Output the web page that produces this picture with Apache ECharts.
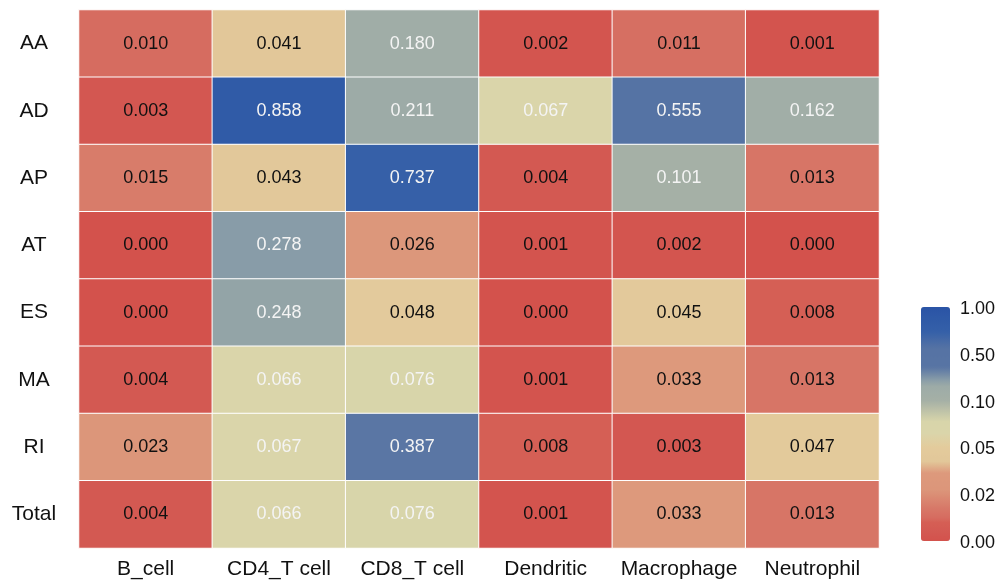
<!DOCTYPE html>
<html>
<head>
<meta charset="utf-8">
<script src="https://cdn.jsdelivr.net/npm/echarts@6/dist/echarts.min.js"></script>
<style>
  html, body { margin: 0; padding: 0; background: #fff; }
  #chart { width: 997px; height: 581px; }
</style>
</head>
<body>
<div id="chart"></div>
<script>
// Row and column categories
const rowNames = ['AA', 'AD', 'AP', 'AT', 'ES', 'MA', 'RI', 'Total'];
const colNames = ['B_cell', 'CD4_T cell', 'CD8_T cell', 'Dendritic', 'Macrophage', 'Neutrophil'];

// Values per row, in column order
const rowAA    = [0.010, 0.041, 0.180, 0.002, 0.011, 0.001];
const rowAD    = [0.003, 0.858, 0.211, 0.067, 0.555, 0.162];
const rowAP    = [0.015, 0.043, 0.737, 0.004, 0.101, 0.013];
const rowAT    = [0.000, 0.278, 0.026, 0.001, 0.002, 0.000];
const rowES    = [0.000, 0.248, 0.048, 0.000, 0.045, 0.008];
const rowMA    = [0.004, 0.066, 0.076, 0.001, 0.033, 0.013];
const rowRI    = [0.023, 0.067, 0.387, 0.008, 0.003, 0.047];
const rowTotal = [0.004, 0.066, 0.076, 0.001, 0.033, 0.013];
const valueRows = [rowAA, rowAD, rowAP, rowAT, rowES, rowMA, rowRI, rowTotal];

// Colour-scale breaks (equally spaced on the legend) and their tick labels
const scaleBreaks = [0, 0.02, 0.05, 0.10, 0.50, 1.00];
const scaleLabels = ['0.00', '0.02', '0.05', '0.10', '0.50', '1.00'];

// Map a value onto the piecewise-linear legend position 0..5
function scalePos(v) {
  for (let i = 0; i < scaleBreaks.length - 1; i++) {
    if (v <= scaleBreaks[i + 1]) {
      return i + (v - scaleBreaks[i]) / (scaleBreaks[i + 1] - scaleBreaks[i]);
    }
  }
  return scaleBreaks.length - 1;
}

// Colour anchors along the legend position
const colorAnchors = [
  [0.00, '#D3524C'], [0.15, '#D35751'], [0.40, '#D55F55'], [0.50, '#D66C60'],
  [0.70, '#D77868'], [1.10, '#DC967A'], [1.45, '#DD997C'], [1.70, '#E2C799'],
  [2.00, '#E3CB9C'], [2.30, '#DAD5AA'], [2.55, '#D8D5AA'], [3.00, '#A5B0A6'],
  [3.30, '#9DABA7'], [3.42, '#8C9FA8'], [3.72, '#5774A4'], [4.11, '#5673A4'],
  [4.47, '#3560A8'], [5.00, '#2A54A6']
];
function hexToRgb(h) { return [1, 3, 5].map(i => parseInt(h.substr(i, 2), 16)); }
function colorAt(t) {
  for (let i = 0; i < colorAnchors.length - 1; i++) {
    const [t0, c0] = colorAnchors[i], [t1, c1] = colorAnchors[i + 1];
    if (t <= t1) {
      const f = (t - t0) / (t1 - t0);
      const a = hexToRgb(c0), b = hexToRgb(c1);
      const m = a.map((x, k) => Math.round(x + (b[k] - x) * f));
      return 'rgb(' + m.join(',') + ')';
    }
  }
  return colorAnchors[colorAnchors.length - 1][1];
}
const rampColors = [];
for (let i = 0; i <= 100; i++) rampColors.push(colorAt(5 * i / 100));

// Heatmap cells: [column, row, value, legend position]
const cells = [];
valueRows.forEach((vals, r) => {
  vals.forEach((v, c) => {
    cells.push({
      value: [c, r, v, scalePos(v)],
      label: { color: v > 0.06 ? '#F4F4F4' : '#111111' }
    });
  });
});

const FONT = '"Liberation Sans", Arial, Helvetica, sans-serif';
const chart = echarts.init(document.getElementById('chart'), null, { renderer: 'canvas' });

// Legend tick labels beside the colour bar
const barTop = 307, barHeight = 234, barLeft = 921, barWidth = 29;
const legendTexts = scaleLabels.map((txt, i) => ({
  type: 'text',
  left: 960,
  top: barTop + 3 + barHeight * (1 - i / (scaleLabels.length - 1)) - 10,
  style: { text: txt, font: '18px ' + FONT, fill: '#111', textVerticalAlign: 'top' }
}));

chart.setOption({
  animation: false,
  backgroundColor: '#fff',
  grid: { left: 79, top: 10, width: 800, height: 538 },
  xAxis: {
    type: 'category',
    data: colNames,
    axisLine: { show: false },
    axisTick: { show: false },
    splitLine: { show: false },
    axisLabel: { interval: 0, fontSize: 21, color: '#111', fontFamily: FONT, margin: 11 }
  },
  yAxis: {
    type: 'category',
    data: rowNames,
    inverse: true,
    axisLine: { show: false },
    axisTick: { show: false },
    splitLine: { show: false },
    axisLabel: { interval: 0, fontSize: 21, color: '#111', fontFamily: FONT, margin: 45, align: 'center' }
  },
  visualMap: {
    type: 'continuous',
    dimension: 3,
    min: 0,
    max: scaleBreaks.length - 1,
    calculable: false,
    orient: 'vertical',
    left: barLeft,
    top: barTop,
    itemWidth: barWidth,
    itemHeight: barHeight,
    padding: 0,
    text: null,
    showLabel: false,
    inRange: { color: rampColors }
  },
  graphic: legendTexts,
  series: [{
    type: 'heatmap',
    data: cells,
    itemStyle: { borderColor: '#ffffff', borderWidth: 1 },
    emphasis: { disabled: true },
    label: {
      show: true,
      fontSize: 18,
      fontFamily: FONT,
      formatter: p => p.value[2].toFixed(3)
    }
  }]
});
</script>
</body>
</html>
